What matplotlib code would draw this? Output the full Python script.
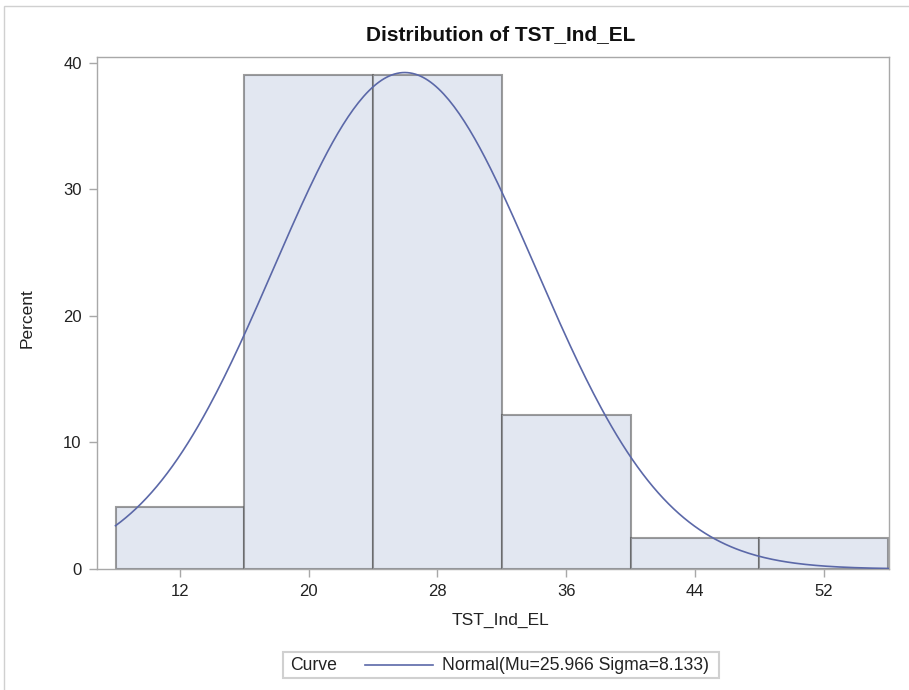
import numpy as np
import matplotlib
matplotlib.use("Agg")
import matplotlib.pyplot as plt
from matplotlib.lines import Line2D
from matplotlib.patches import Rectangle
from matplotlib.offsetbox import AnchoredOffsetbox, HPacker, TextArea, DrawingArea

plt.rcParams['font.family'] = ['Liberation Sans', 'DejaVu Sans']

# histogram of TST_Ind_EL (41 obs), bins of width 8
bin_mid = [12, 20, 28, 36, 44, 52]
bin_width = 8
percent = [4.878, 39.024, 39.024, 12.195, 2.439, 2.439]
# fitted normal
mu = 25.966
sigma = 8.133

fill = '#e2e7f1'
edge = (0.30, 0.30, 0.30, 0.55)
curve_col = '#5b68a8'
frame_col = '#a8a8a8'
txt = '#222222'

fig = plt.figure(figsize=(9.09, 6.9), dpi=100)
ax = fig.add_axes([97/909, 121/690, 792/909, 512/690])

ax.bar(bin_mid, percent, width=bin_width, color=fill, edgecolor=edge, linewidth=1.5, zorder=2)

xs = np.linspace(bin_mid[0] - bin_width/2, bin_mid[-1] + bin_width/2, 300)
ys = 100 * bin_width * np.exp(-0.5 * ((xs - mu) / sigma) ** 2) / (sigma * np.sqrt(2 * np.pi))
ax.plot(xs, ys, color=curve_col, lw=1.2, zorder=3)

ax.set_xlim(6.85, 56.05)
ax.set_ylim(0, 40.47)
ax.set_xticks(bin_mid)
ax.set_yticks([0, 10, 20, 30, 40])
for s in ax.spines.values():
    s.set_color(frame_col)
    s.set_linewidth(1.0)
ax.tick_params(colors=frame_col, labelcolor=txt, labelsize=12, length=6, width=1.0, pad=5)

ax.set_xlabel('TST_Ind_EL', fontsize=12.5, color=txt)
ax.xaxis.set_label_coords(403/792, -44/512)
ax.set_ylabel('Percent', fontsize=12.5, color=txt)
ax.yaxis.set_label_coords(-62/792, (569-318)/512)

fig.text(501/909, 1 - 35/690, 'Distribution of TST_Ind_EL', ha='center', va='center',
         fontsize=15, fontweight='bold', color='#111111')

# outer border of the graph region
fig.patches.append(Rectangle((4/909, -0.1), 1.2, 1 - 6/690 + 0.1, transform=fig.transFigure,
                             fill=False, edgecolor='#d0d0d0', lw=1.0))

# legend: "Curve" + sample line + label, in one row (offsetbox sizes are in points)
px = 0.72
da = DrawingArea(105 * px, 10, 0, 0)
da.add_artist(Line2D([28 * px, 96 * px], [5, 5], color=curve_col, lw=1.2))
row = HPacker(children=[DrawingArea(3.8 * px, 1, 0, 0),
                        TextArea('Curve', textprops=dict(fontsize=12.7, color=txt)),
                        da,
                        TextArea('Normal(Mu=%.3f Sigma=%.3f)' % (mu, sigma),
                                 textprops=dict(fontsize=12.7, color=txt)),
                        DrawingArea(5.8 * px, 1, 0, 0)],
              align='center', pad=0, sep=0)
leg = AnchoredOffsetbox(loc='center', child=row, pad=0.3, borderpad=0,
                        bbox_to_anchor=(501/909, 1 - 665/690), bbox_transform=fig.transFigure,
                        frameon=True)
leg.patch.set_edgecolor('#d0d0d0')
leg.patch.set_linewidth(1.5)
fig.add_artist(leg)

fig.savefig('out.png', dpi=100)
